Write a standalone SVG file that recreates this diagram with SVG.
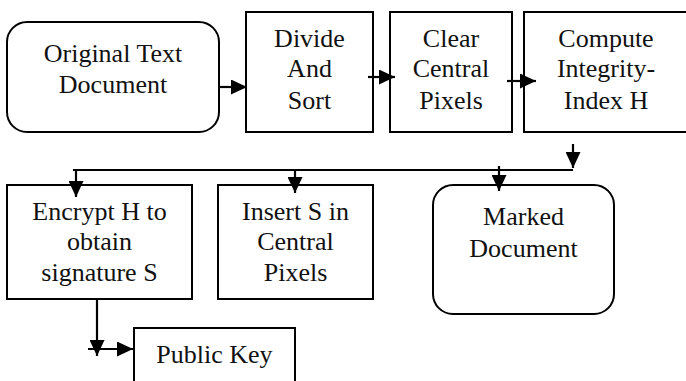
<svg xmlns="http://www.w3.org/2000/svg" width="686" height="381" viewBox="0 0 686 381" font-family="'Liberation Serif', 'DejaVu Serif', serif">
<style>
.box{fill:#fff;stroke:#000;stroke-width:2}
.t{font-size:26px;fill:#111;text-anchor:middle}
.c{fill:none;stroke:#000;stroke-width:2.2}
</style>
<defs>
<marker id="ah" markerUnits="userSpaceOnUse" markerWidth="16" markerHeight="15" refX="16" refY="7.5" orient="auto">
<path d="M0,0 L16,7.5 L0,15 z" fill="#000"/>
</marker>
</defs>
<rect width="686" height="381" fill="#fff"/>
<g id="original">
<rect class="box" x="7" y="22" width="212" height="110" rx="20"/>
<text class="t" x="113" y="62">Original Text</text>
<text class="t" x="113" y="93">Document</text>
</g>
<g id="divide">
<rect class="box" x="246" y="12" width="127" height="120"/>
<text class="t" x="309.5" y="47">Divide</text>
<text class="t" x="309.5" y="77">And</text>
<text class="t" x="309.5" y="109">Sort</text>
</g>
<g id="clear">
<rect class="box" x="390" y="12" width="122" height="120"/>
<text class="t" x="451" y="47">Clear</text>
<text class="t" x="451" y="77">Central</text>
<text class="t" x="451" y="109">Pixels</text>
</g>
<g id="compute">
<rect class="box" x="524" y="12" width="170" height="120"/>
<text class="t" x="606" y="47">Compute</text>
<text class="t" x="606" y="77">Integrity-</text>
<text class="t" x="606" y="109">Index H</text>
</g>
<g id="encrypt">
<rect class="box" x="7" y="185" width="185" height="114"/>
<text class="t" x="99.5" y="220">Encrypt H to</text>
<text class="t" x="99.5" y="250">obtain</text>
<text class="t" x="99.5" y="281">signature S</text>
</g>
<g id="insert">
<rect class="box" x="218" y="185" width="155" height="114"/>
<text class="t" x="295.5" y="220">Insert S in</text>
<text class="t" x="295.5" y="250">Central</text>
<text class="t" x="295.5" y="281">Pixels</text>
</g>
<g id="marked">
<rect class="box" x="433" y="185" width="181" height="129" rx="20"/>
<text class="t" x="523.5" y="225">Marked</text>
<text class="t" x="523.5" y="257">Document</text>
</g>
<g id="publickey">
<rect class="box" x="134" y="328" width="161" height="70"/>
<text class="t" x="214.5" y="363">Public Key</text>
</g>
<g id="connectors">
<line class="c" x1="219" y1="87" x2="247" y2="87" marker-end="url(#ah)"/>
<line class="c" x1="368" y1="77" x2="395" y2="77" marker-end="url(#ah)"/>
<line class="c" x1="507" y1="81" x2="536" y2="81" marker-end="url(#ah)"/>
<line class="c" x1="573" y1="144" x2="573" y2="168" marker-end="url(#ah)"/>
<path class="c" d="M573,170 H73"/>
<line class="c" x1="76" y1="170" x2="76" y2="197" marker-end="url(#ah)"/>
<line class="c" x1="295" y1="170" x2="295" y2="193" marker-end="url(#ah)"/>
<line class="c" x1="499" y1="166" x2="499" y2="191" marker-end="url(#ah)"/>
<line class="c" x1="97" y1="299" x2="97" y2="356" marker-end="url(#ah)"/>
<line class="c" x1="88" y1="349" x2="133" y2="349" marker-end="url(#ah)"/>
</g>
</svg>
